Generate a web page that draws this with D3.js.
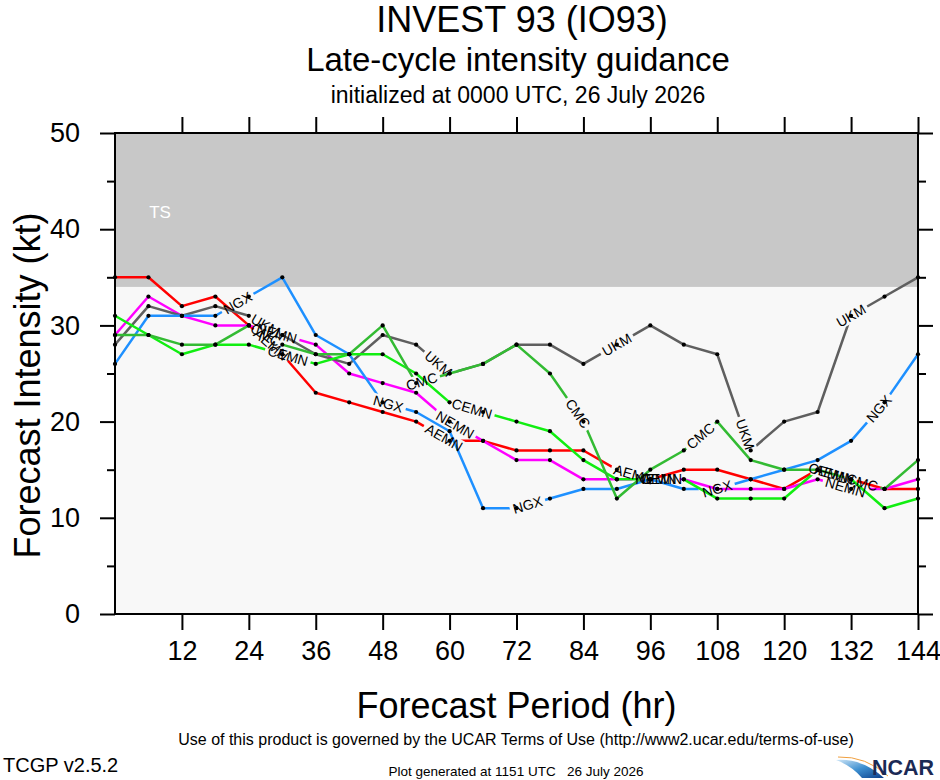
<!DOCTYPE html>
<html>
<head>
<meta charset="utf-8">
<script src="https://cdn.jsdelivr.net/npm/d3@7"></script>
<style>
  body { margin: 0; background: #fff; }
  svg { display: block; font-family: "Liberation Sans", Arial, Helvetica, sans-serif; }
</style>
</head>
<body>
<script>
// Forecast hours (every 6 h)
const hours = [0, 6, 12, 18, 24, 30, 36, 42, 48, 54, 60, 66, 72, 78, 84, 90, 96, 102, 108, 114, 120, 126, 132, 138, 144];

// Intensity guidance per model (kt)
const aemn = [35, 35, 32, 33, 30, 27, 23, 22, 21, 20, 18, 18, 17, 17, 17, 15, 14, 15, 15, 14, 13, 15, 14, 13, 13];
const nemn = [29, 33, 31, 30, 30, 29, 28, 25, 24, 23, 20, 18, 16, 16, 14, 14, 14, 14, 13, 13, 13, 14, 13, 13, 14];
const ukm  = [28, 32, 31, 32, 31, 29, 27, 26, 29, 28, 25, 26, 28, 28, 26, 28, 30, 28, 27, 17, 20, 21, 31, 33, 35];
const ngx  = [26, 31, 31, 31, 33, 35, 29, 27, 22, 21, 19, 11, 11, 12, 13, 13, 14, 13, 13, 14, 15, 16, 18, 22, 27];
const cemn = [31, 29, 27, 28, 28, 27, 26, 27, 27, 25, 22, 21, 20, 19, 16, 14, 14, 14, 12, 12, 12, 15, 14, 11, 12];
const cmc  = [29, 29, 28, 28, 30, 28, 27, 27, 30, 24, 25, 26, 28, 25, 20, 12, 15, 17, 20, 16, 15, 15, 14, 13, 16];

// Hours along each line where the model name is written
const aemnLabels = [28, 59, 93, 129];
const nemnLabels = [29, 61, 97, 131];
const ukmLabels  = [27, 58, 90, 113, 132];
const ngxLabels  = [22, 49, 74, 108, 137];
const cemnLabels = [31, 64, 98, 128];
const cmcLabels  = [27, 55, 83, 105, 134];

const xTicks = [12, 24, 36, 48, 60, 72, 84, 96, 108, 120, 132, 144];
const yTicks = [0, 10, 20, 30, 40, 50];
const yMinorTicks = [5, 15, 25, 35, 45];

const models = [
  { name: "AEMN", values: aemn, labels: aemnLabels, color: "#ff0000" },
  { name: "NEMN", values: nemn, labels: nemnLabels, color: "#ff00ff" },
  { name: "UKM",  values: ukm,  labels: ukmLabels,  color: "#5f5f5f" },
  { name: "NGX",  values: ngx,  labels: ngxLabels,  color: "#1e90ff" },
  { name: "CEMN", values: cemn, labels: cemnLabels, color: "#11ee11" },
  { name: "CMC",  values: cmc,  labels: cmcLabels,  color: "#33bb33" }
];

const W = 940, H = 780;
const margin = { top: 133, right: 22, bottom: 166, left: 115 };
const x0 = margin.left, x1 = W - margin.right;
const y0 = margin.top, y1 = H - margin.bottom;

const x = d3.scaleLinear().domain([0, 144]).range([x0, x1]);
const y = d3.scaleLinear().domain([0, 50]).range([y1, y0]);

const svg = d3.select("body").append("svg")
  .attr("width", W)
  .attr("height", H);

// Titles
svg.append("text").attr("x", 522).attr("y", 32).attr("text-anchor", "middle")
  .style("font-size", "36px").text("INVEST 93 (IO93)");
svg.append("text").attr("x", 518).attr("y", 71).attr("text-anchor", "middle")
  .style("font-size", "33px").text("Late-cycle intensity guidance");
svg.append("text").attr("x", 518).attr("y", 103).attr("text-anchor", "middle")
  .style("font-size", "23px").text("initialized at 0000 UTC, 26 July 2026");

// Background bands
svg.append("rect").attr("x", x0).attr("y", y0).attr("width", x1 - x0).attr("height", y1 - y0)
  .attr("fill", "#f8f8f8");
svg.append("rect").attr("x", x0).attr("y", y(50)).attr("width", x1 - x0).attr("height", y(34) - y(50))
  .attr("fill", "#c8c8c8");
svg.append("text").attr("x", 160).attr("y", 218).attr("text-anchor", "middle")
  .attr("fill", "#fff").style("font-size", "17px").text("TS");

// Helpers for label placement along a line
function pointAt(values, h) {
  let i = d3.bisectRight(hours, h) - 1;
  i = Math.max(0, Math.min(hours.length - 2, i));
  const xa = x(hours[i]), xb = x(hours[i + 1]);
  const ya = y(values[i]), yb = y(values[i + 1]);
  const t = (h - hours[i]) / (hours[i + 1] - hours[i]);
  return {
    px: xa + t * (xb - xa),
    py: ya + t * (yb - ya),
    angle: Math.atan2(yb - ya, xb - xa) * 180 / Math.PI
  };
}

const defs = svg.append("defs");
const line = d3.line().x((d, i) => x(hours[i])).y(d => y(d));

const lineLayer = svg.append("g");
const labelLayer = svg.append("g");
const dotLayer = svg.append("g");

models.forEach((m, k) => {
  const labels = m.labels.map(h => Object.assign({ h }, pointAt(m.values, h)));

  // write the labels first so their length can be measured
  const texts = labelLayer.selectAll(null)
    .data(labels)
    .join("text")
    .attr("transform", d => `translate(${d.px},${d.py}) rotate(${d.angle})`)
    .attr("text-anchor", "middle")
    .attr("dy", "0.35em")
    .style("font-size", "14px")
    .attr("fill", "#000")
    .text(m.name);

  const len = texts.node().getComputedTextLength();

  const mask = defs.append("mask").attr("id", "gap" + k)
    .attr("maskUnits", "userSpaceOnUse")
    .attr("x", 0).attr("y", 0).attr("width", W).attr("height", H);
  mask.append("rect").attr("width", W).attr("height", H).attr("fill", "#fff");
  mask.selectAll(null)
    .data(labels)
    .join("rect")
    .attr("x", -len / 2 - 3).attr("y", -7)
    .attr("width", len + 6).attr("height", 14)
    .attr("transform", d => `translate(${d.px},${d.py}) rotate(${d.angle})`)
    .attr("fill", "#000");

  lineLayer.append("path")
    .datum(m.values)
    .attr("d", line)
    .attr("fill", "none")
    .attr("stroke", m.color)
    .attr("stroke-width", 2.5)
    .attr("stroke-linejoin", "round")
    .attr("mask", `url(#gap${k})`);

  dotLayer.selectAll(null)
    .data(m.values)
    .join("circle")
    .attr("cx", (d, i) => x(hours[i]))
    .attr("cy", d => y(d))
    .attr("r", 2.1)
    .attr("fill", "#000");
});

// Frame
svg.append("rect").attr("x", x0).attr("y", y0).attr("width", x1 - x0).attr("height", y1 - y0)
  .attr("fill", "none").attr("stroke", "#000").attr("stroke-width", 2);

// Axes
const tickStyle = g => g.call(s => s.select(".domain").remove())
  .call(s => s.selectAll("line").attr("stroke", "#000").attr("stroke-width", 2));

svg.append("g").attr("transform", `translate(0,${y1})`)
  .call(d3.axisBottom(x).tickValues(xTicks).tickSize(16).tickPadding(11))
  .call(tickStyle)
  .call(g => g.selectAll("text").style("font-size", "27px").attr("fill", "#000")
    .style("font-family", "Liberation Sans, Arial, sans-serif"));

svg.append("g").attr("transform", `translate(0,${y0})`)
  .call(d3.axisTop(x).tickValues(xTicks).tickSize(16).tickFormat(""))
  .call(tickStyle);

svg.append("g").attr("transform", `translate(${x0},0)`)
  .call(d3.axisLeft(y).tickValues(yTicks).tickSize(15).tickPadding(20))
  .call(tickStyle)
  .call(g => g.selectAll("text").style("font-size", "27px").attr("fill", "#000")
    .style("font-family", "Liberation Sans, Arial, sans-serif"));

svg.append("g").attr("transform", `translate(${x0},0)`)
  .call(d3.axisLeft(y).tickValues(yMinorTicks).tickSize(8).tickFormat(""))
  .call(tickStyle);

svg.append("g").attr("transform", `translate(${x1},0)`)
  .call(d3.axisRight(y).tickValues(yTicks).tickSize(15).tickFormat(""))
  .call(tickStyle);

svg.append("g").attr("transform", `translate(${x1},0)`)
  .call(d3.axisRight(y).tickValues(yMinorTicks).tickSize(8).tickFormat(""))
  .call(tickStyle);

// Axis titles
svg.append("text").attr("x", (x0 + x1) / 2).attr("y", 718).attr("text-anchor", "middle")
  .style("font-size", "36px").text("Forecast Period (hr)");
svg.append("text").attr("transform", `translate(40,${(y0 + y1) / 2 + 12}) rotate(-90)`)
  .attr("text-anchor", "middle").style("font-size", "36px").text("Forecast Intensity (kt)");

// Footer
svg.append("text").attr("x", 516).attr("y", 745).attr("text-anchor", "middle")
  .style("font-size", "16px")
  .text("Use of this product is governed by the UCAR Terms of Use (http://www2.ucar.edu/terms-of-use)");
svg.append("text").attr("x", 3).attr("y", 772).style("font-size", "20px").text("TCGP v2.5.2");
svg.append("text").attr("x", 516).attr("y", 776).attr("text-anchor", "middle")
  .style("font-size", "13.5px").style("white-space", "pre")
  .text("Plot generated at 1151 UTC   26 July 2026");

// NCAR logo
const grad = defs.append("linearGradient").attr("id", "swoosh")
  .attr("x1", "0").attr("y1", "0").attr("x2", "1").attr("y2", "1");
grad.append("stop").attr("offset", "0").attr("stop-color", "#cfe6f7");
grad.append("stop").attr("offset", "0.5").attr("stop-color", "#3d8fd0");
grad.append("stop").attr("offset", "1").attr("stop-color", "#0b3f8a");
svg.append("path")
  .attr("d", "M836,760 Q862,758 884,778 L862,778 Q852,766 836,760 Z")
  .attr("fill", "url(#swoosh)");
svg.append("path")
  .attr("d", "M838,757 Q866,756 888,776")
  .attr("fill", "none").attr("stroke", "#f0a040").attr("stroke-width", 1);
svg.append("text").attr("x", 872).attr("y", 775)
  .attr("textLength", 62).attr("lengthAdjust", "spacingAndGlyphs")
  .style("font-size", "22px").style("font-weight", "bold").attr("fill", "#1b2a55")
  .text("NCAR");
</script>
</body>
</html>
